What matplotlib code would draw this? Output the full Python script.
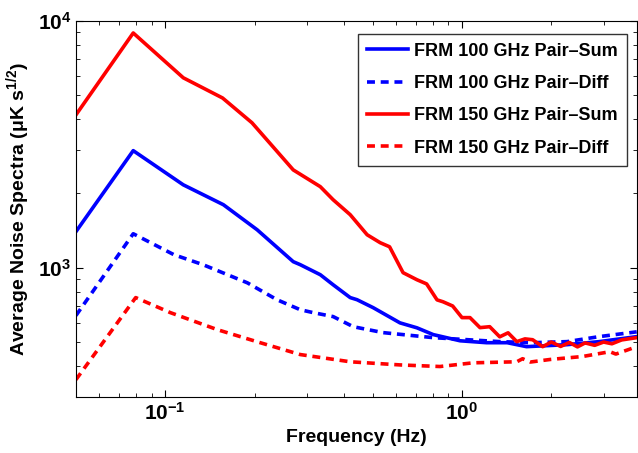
import numpy as np
import matplotlib.pyplot as plt

plt.rcParams['font.family'] = ['Liberation Sans', 'DejaVu Sans']
plt.rcParams['font.weight'] = 'bold'
plt.rcParams['mathtext.default'] = 'regular'

# frequencies (Hz) and noise spectra (uK s^1/2)
f_r150 = [0.05, 0.078, 0.115, 0.156, 0.196, 0.27, 0.333, 0.368, 0.42, 0.479, 0.53,
          0.57, 0.633, 0.705, 0.76, 0.824, 0.863, 0.93, 1.0, 1.064, 1.15, 1.24, 1.34,
          1.43, 1.53, 1.63, 1.73, 1.87, 2.0, 2.15, 2.3, 2.45, 2.6, 2.8, 3.0, 3.2, 3.45, 3.88]
v_r150 = [4160, 8930, 5880, 4870, 3865, 2490, 2130, 1885, 1640, 1360, 1263,
          1216, 955, 894, 860, 741, 728, 700, 628, 628, 572, 577, 525,
          545, 502, 515, 511, 479, 500, 480, 498, 478, 496, 485, 500, 492, 510, 521]

f_b100 = [0.05, 0.078, 0.115, 0.157, 0.204, 0.27, 0.285, 0.333, 0.368, 0.42, 0.443,
          0.502, 0.618, 0.705, 0.80, 0.985, 1.21, 1.42, 1.65, 2.26, 2.9, 3.88]
v_b100 = [1400, 2980, 2167, 1800, 1425, 1058, 1029, 937, 853, 757, 742,
          689, 598, 571, 536, 506, 497, 497, 479, 488, 502, 526]

f_b100d = [0.05, 0.078, 0.107, 0.134, 0.189, 0.238, 0.285, 0.315, 0.368, 0.43,
           0.542, 0.80, 1.34, 1.73, 2.26, 2.9, 3.88]
v_b100d = [640, 1373, 1129, 1029, 869, 742, 676, 658, 634, 577,
           546, 521, 502, 497, 502, 526, 550]

f_r150d = [0.05, 0.0795, 0.104, 0.15, 0.209, 0.285, 0.42, 0.618, 0.843, 1.09,
           1.53, 1.6, 1.7, 1.98, 2.55, 3.15, 3.3, 3.88]
v_r150d = [352, 757, 658, 561, 497, 445, 416, 404, 398, 412,
           416, 428, 415, 425, 437, 457, 447, 479]

fig = plt.figure(figsize=(6.38, 4.53), dpi=100)
ax = fig.add_axes([0.119, 0.124, 0.879, 0.83])

ax.loglog(f_b100, v_b100, color='#0000ff', lw=2.6, label='FRM 100 GHz Pair\u2013Sum')
ax.loglog(f_b100d, v_b100d, color='#0000ff', lw=2.6, ls=(0, (2.2, 1.6)), label='FRM 100 GHz Pair\u2013Diff')
ax.loglog(f_r150, v_r150, color='#ff0000', lw=2.6, label='FRM 150 GHz Pair\u2013Sum')
ax.loglog(f_r150d, v_r150d, color='#ff0000', lw=2.6, ls=(0, (2.2, 1.6)), label='FRM 150 GHz Pair\u2013Diff')

ax.set_xlim(0.05, 3.88)
ax.set_ylim(300, 10000)
ax.tick_params(which='both', direction='in', top=True, right=True, labelsize=15)
ax.tick_params(which='major', length=5)
ax.tick_params(which='minor', length=3)
ax.set_xlabel('Frequency (Hz)', fontsize=14, fontweight='bold')
ax.set_ylabel(r'Average Noise Spectra ($\mu$K s$^{1/2}$)', fontsize=14, fontweight='bold')

leg = ax.legend(loc='upper right', fontsize=13, frameon=True, fancybox=False,
                edgecolor='black', handlelength=2.3, handletextpad=0.3,
                labelspacing=0.85, borderpad=0.5, bbox_to_anchor=(0.998, 0.99))
leg.get_frame().set_linewidth(1.0)

fig.savefig('out.png')
